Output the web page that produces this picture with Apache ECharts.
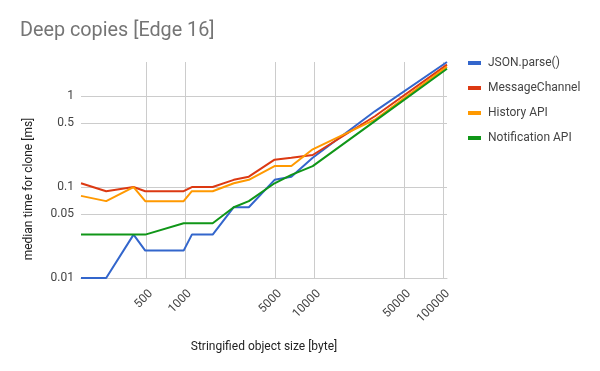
<!DOCTYPE html>
<html><head><meta charset="utf-8">
<script src="https://cdn.jsdelivr.net/npm/echarts@6/dist/echarts.min.js"></script>
<style>html,body{margin:0;padding:0;background:#fff}#c{width:600px;height:371px}</style>
</head><body><div id="c"></div>
<script>
var sizes = [157, 246, 401, 494, 980, 1135, 1645, 2397, 3135, 4963, 6695, 9800, 29700, 107600];
var jsonParse = [0.01, 0.01, 0.03, 0.02, 0.02, 0.03, 0.03, 0.06, 0.06, 0.12, 0.13, 0.21, 0.68, 2.37];
var messageChannel = [0.11, 0.09, 0.1, 0.09, 0.09, 0.1, 0.1, 0.12, 0.13, 0.2, 0.21, 0.225, 0.6, 2.22];
var historyApi = [0.08, 0.07, 0.1, 0.07, 0.07, 0.09, 0.09, 0.11, 0.12, 0.17, 0.17, 0.26, 0.55, 2.11];
var notificationApi = [0.03, 0.03, 0.03, 0.03, 0.04, 0.04, 0.04, 0.06, 0.07, 0.11, 0.136, 0.17, 0.53, 2.0];
var xTicks = [500, 1000, 5000, 10000, 50000, 100000];
var yTicks = [0.01, 0.05, 0.1, 0.5, 1];
var names = ['JSON.parse()', 'MessageChannel', 'History API', 'Notification API'];
var colors = ['#3366cc', '#dc3912', '#ff9900', '#109618'];
var values = [jsonParse, messageChannel, historyApi, notificationApi];

function pairs(v) { return sizes.map(function (s, i) { return [s, v[i]]; }); }

var chart = echarts.init(document.getElementById('c'), null, {renderer: 'canvas'});
chart.setOption({
  animation: false,
  color: colors,
  textStyle: {fontFamily: 'Roboto'},
  title: {
    text: 'Deep copies [Edge 16]', left: 20, top: 21, padding: 0,
    textStyle: {fontFamily: 'Roboto', fontSize: 19.8, fontWeight: 'normal', color: '#757575'}
  },
  legend: {
    orient: 'vertical', left: 468, top: 56, padding: 0, itemWidth: 13, itemHeight: 4, itemGap: 11,
    icon: 'rect',
    textStyle: {fontFamily: 'Roboto', fontSize: 12, color: '#444', lineHeight: 14, padding: [0, 0, 0, 2]},
    data: names
  },
  grid: {left: 81, right: 153, top: 62, bottom: 93, containLabel: false},
  xAxis: {
    type: 'log', logBase: 10, min: sizes[0], max: sizes[sizes.length - 1],
    name: 'Stringified object size [byte]', nameLocation: 'middle', nameGap: 63,
    nameTextStyle: {fontFamily: 'Roboto', fontSize: 12, color: '#222'},
    axisLine: {show: true, lineStyle: {color: '#ccc'}},
    axisTick: {show: false, customValues: xTicks},
    axisLabel: {
      customValues: xTicks, rotate: 45, margin: 9, verticalAlign: 'top', fontSize: 12, color: '#444', hideOverlap: false,
      padding: [1, 0, 0, 0],
      formatter: function (v) { return String(Math.round(v)); }
    },
    splitLine: {show: true, lineStyle: {color: '#ccc', width: 1}},
    minorTick: {show: false}, minorSplitLine: {show: false}
  },
  yAxis: {
    type: 'log', logBase: 10, min: 0.01, max: 2.37,
    name: 'median time for clone [ms]', nameLocation: 'middle', nameGap: 46, nameRotate: 90,
    nameTextStyle: {fontFamily: 'Roboto', fontSize: 12, color: '#222', padding: [0, 38, 0, 0]},
    axisLine: {show: false},
    axisTick: {show: false, customValues: yTicks},
    axisLabel: {customValues: yTicks, margin: 7, fontSize: 12, color: '#444'},
    splitLine: {show: true, lineStyle: {color: '#ccc', width: 1}}
  },
  series: values.map(function (v, i) {
    return {
      name: names[i], type: 'line', data: pairs(v), showSymbol: false, symbol: 'none',
      lineStyle: {width: 2, color: colors[i]}, itemStyle: {color: colors[i]}
    };
  })
});
</script></body></html>
